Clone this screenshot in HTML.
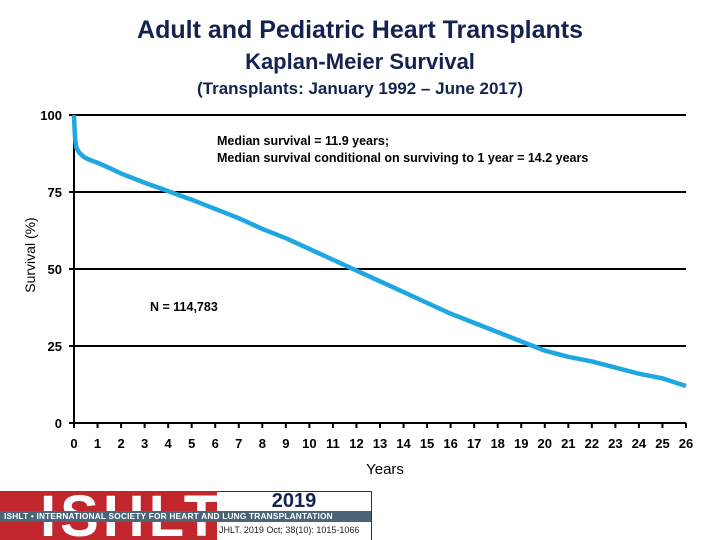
<!DOCTYPE html>
<html><head><meta charset="utf-8"><style>
body{margin:0;background:#fff;}
#wrap{position:relative;width:720px;height:540px;overflow:hidden;font-family:"Liberation Sans",sans-serif;}
.t{position:absolute;left:0;width:720px;text-align:center;color:#13224f;font-weight:bold;}
</style></head><body>
<div id="wrap">
<div class="t" style="top:16px;font-size:25px;">Adult and Pediatric Heart Transplants</div>
<div class="t" style="top:49px;font-size:22px;">Kaplan-Meier Survival</div>
<div class="t" style="top:79px;font-size:17px;">(Transplants: January 1992 – June 2017)</div>
<svg id="chart" width="720" height="540" style="position:absolute;left:0;top:0"></svg>
<div style="position:absolute;left:0;top:491px;width:217px;height:49px;background:#c0262c;overflow:hidden;">
<div style="position:absolute;left:40px;top:-8px;font-size:58px;font-weight:bold;color:#fff;letter-spacing:4px;">ISHLT</div></div>
<div style="position:absolute;left:217px;top:491px;width:154px;height:48px;border:1px solid #333;border-left:none;background:#fff;">
<div style="position:absolute;left:0;width:154px;top:-2px;text-align:center;font-size:20px;font-weight:bold;color:#13224f;">2019</div>
<div style="position:absolute;left:2px;top:33px;font-size:9px;color:#222;">JHLT. 2019 Oct; 38(10): 1015-1066</div></div>
<div style="position:absolute;left:0;top:511px;width:371px;height:11px;background:#4a6478;color:#fff;font-size:8.3px;font-weight:bold;line-height:11px;letter-spacing:0.2px;white-space:nowrap;overflow:hidden;padding-left:4px;box-sizing:border-box;">ISHLT • INTERNATIONAL SOCIETY FOR HEART AND LUNG TRANSPLANTATION</div>
</div>
<script>
const years=[0,0.02,0.05,0.1,0.2,0.35,0.5,0.75,1,1.5,2,3,4,5,6,7,8,9,10,11,12,13,14,15,16,17,18,19,20,21,22,23,24,25,26];
const survival=[100,96,92,89.5,88,86.8,86,85.2,84.5,82.8,81,78,75.3,72.5,69.5,66.5,63,60,56.5,53,49.5,46,42.5,39,35.5,32.5,29.5,26.5,23.5,21.5,20,18,16,14.5,12];
const yTicks=[0,25,50,75,100];
const xTicks=[0,1,2,3,4,5,6,7,8,9,10,11,12,13,14,15,16,17,18,19,20,21,22,23,24,25,26];
const NS='http://www.w3.org/2000/svg';
const svg=document.getElementById('chart');
const X=v=>74+v*(686-74)/26;
const Y=v=>423-v*(423-115)/100;
function mk(t,a){const e=document.createElementNS(NS,t);for(const k in a)e.setAttribute(k,a[k]);svg.appendChild(e);return e;}
yTicks.forEach(v=>{
  if(v>0){const g=mk('line',{x1:X(0),x2:X(26),y1:Y(v),y2:Y(v),stroke:'#000','stroke-width':2});
  
  }
  mk('line',{x1:X(0)-5,x2:X(0),y1:Y(v),y2:Y(v),stroke:'#000','stroke-width':2});
  const t=mk('text',{x:X(0)-12,y:Y(v)+5,'text-anchor':'end','font-size':13,'font-weight':'bold','font-family':'Liberation Sans,sans-serif'});
  t.textContent=v;
  
  
});
const xa=mk('line',{x1:X(0),x2:X(26),y1:Y(0),y2:Y(0),stroke:'#000','stroke-width':2});


const ya=mk('line',{x1:X(0),x2:X(0),y1:Y(0),y2:Y(100),stroke:'#000','stroke-width':2});


xTicks.forEach(v=>{
  mk('line',{x1:X(v),x2:X(v),y1:Y(0),y2:Y(0)+5,stroke:'#000','stroke-width':2});
  const t=mk('text',{x:X(v),y:Y(0)+25,'text-anchor':'middle','font-size':13,'font-weight':'bold','font-family':'Liberation Sans,sans-serif'});
  t.textContent=v;
  
  
});
const line=mk('polyline',{points:years.map((y,i)=>X(y)+','+Y(survival[i])).join(' '),fill:'none',stroke:'#1ea7e0','stroke-width':4.5,'stroke-linejoin':'round'});


function txt(s,x,y,sz,name,extra){const t=mk('text',Object.assign({x:x,y:y,'font-size':sz,'font-weight':'bold','font-family':'Liberation Sans,sans-serif'},extra||{}));t.textContent=s;return t;}
txt('Median survival = 11.9 years;',217,145,12.5,'median-annotation');
txt('Median survival conditional on surviving to 1 year = 14.2 years',217,162,12.5,'conditional-annotation');
txt('N = 114,783',150,311,12.5,'n-annotation');
txt('Years',385,474,15,'x-axis-title',{'text-anchor':'middle','font-weight':'normal'});
txt('Survival (%)',0,0,14,'y-axis-title',{'text-anchor':'middle','font-weight':'normal',transform:'translate(35,255) rotate(-90)'});
</script>
</body></html>
